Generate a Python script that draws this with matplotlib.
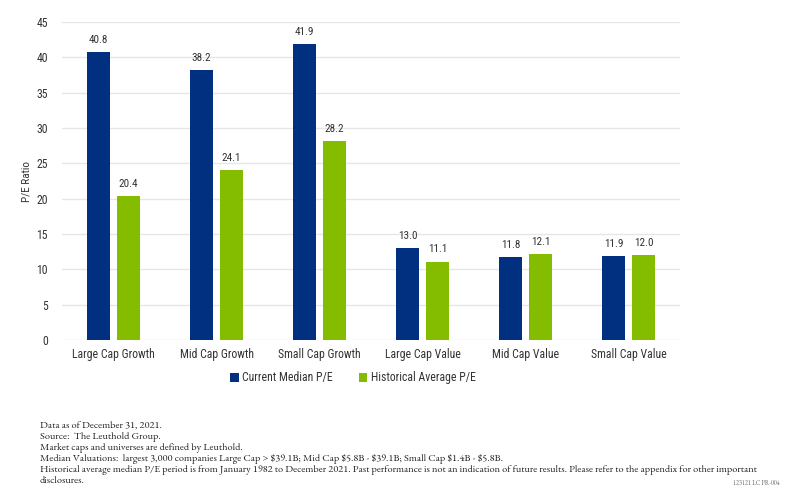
import matplotlib
matplotlib.use("Agg")
import matplotlib.pyplot as plt
import numpy as np

categories = ["Large Cap Growth", "Mid Cap Growth", "Small Cap Growth",
              "Large Cap Value", "Mid Cap Value", "Small Cap Value"]
current_pe = [40.8, 38.2, 41.9, 13.0, 11.8, 11.9]
historical_pe = [20.4, 24.1, 28.2, 11.1, 12.1, 12.0]
series_names = ["Current Median P/E", "Historical Average P/E"]
yticks = [0, 5, 10, 15, 20, 25, 30, 35, 40, 45]

footnotes = [
    "Data as of December 31, 2021.",
    "Source:  The Leuthold Group.",
    "Market caps and universes are defined by Leuthold.",
    "Median Valuations:  largest 3,000 companies Large Cap > $39.1B; Mid Cap $5.8B - $39.1B; Small Cap $1.4B - $5.8B.",
    "Historical average median P/E period is from January 1982 to December 2021. Past performance is not an indication of future results. Please refer to the appendix for other important",
    "disclosures.",
]
code_text = "123121 LC PR-004"

sans = "Roboto Condensed"
serif = "EB Garamond"
plt.rcParams['font.family'] = [sans, 'DejaVu Sans']

blue = "#00307F"
green = "#84BD00"
txt = "#333333"

fig = plt.figure(figsize=(8, 4.98), dpi=100)
ax = fig.add_axes([62/800, 1-340/498, (680-62)/800, (340-22)/498])

x = np.arange(len(categories))
w = 0.225
off = 0.145
b1 = ax.bar(x - off, current_pe, w, color=blue, label=series_names[0], zorder=3)
b2 = ax.bar(x + off, historical_pe, w, color=green, label=series_names[1], zorder=3)
for bars, vals in ((b1, current_pe), (b2, historical_pe)):
    for r, v in zip(bars, vals):
        ax.text(r.get_x() + r.get_width()/2, v + 1.0, f"{v:.1f}", ha='center', va='bottom',
                fontsize=8, color=txt)

ax.set_xlim(-0.5, 5.5)
ax.set_ylim(0, 45)
ax.set_yticks(yticks)
ax.set_xticks(x)
ax.set_xticklabels(categories, fontsize=8.5, color=txt)
ax.tick_params(axis='y', labelsize=8.5, colors=txt, length=0, pad=10)
ax.tick_params(axis='x', length=0, pad=6)
ax.grid(axis='y', color='#E6E6E6', linewidth=1, zorder=0)
for s in ax.spines.values():
    s.set_visible(False)
ax.set_ylabel("P/E Ratio", fontsize=8, color=txt, labelpad=4)

fig.legend(handles=[b1, b2], labels=series_names, loc='center', bbox_to_anchor=(353/800, 1-378/498),
           ncol=2, frameon=False, fontsize=8.5, handlelength=0.7, handleheight=0.7,
           handletextpad=0.3, columnspacing=2.2, labelcolor=txt)

y0 = 426
for i, line in enumerate(footnotes):
    fig.text(40/800, 1-(y0 + i*11)/498, line, fontsize=7.5, family=serif, color='#222222',
             va='center', ha='left')
fig.text(780/800, 1-483/498, code_text, fontsize=4.5, family=serif, color='#666666',
         va='center', ha='right')

fig.savefig("out.png", dpi=100, facecolor='white')
